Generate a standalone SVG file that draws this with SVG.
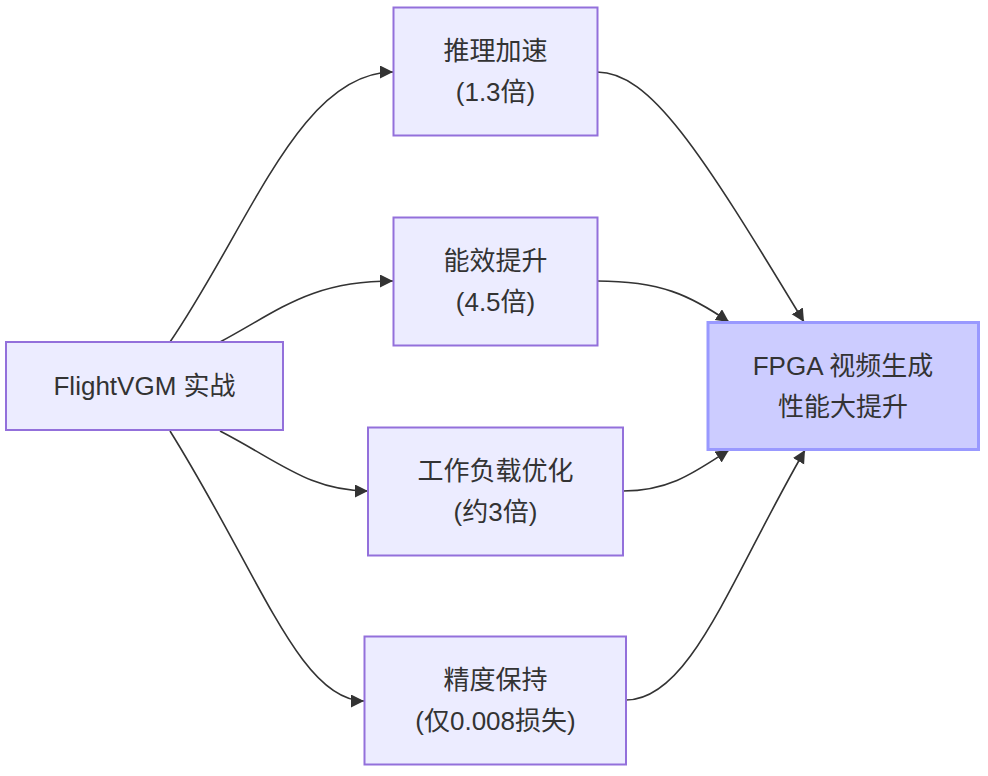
<svg xmlns="http://www.w3.org/2000/svg" width="988" height="776" viewBox="0 0 988 776">
<style>
.node rect{fill:#ECECFF;stroke:#9370DB;stroke-width:2px}
.node.result rect{fill:#CCCCFF;stroke:#9999FF;stroke-width:3px}
.node text{font-family:"Liberation Sans","Noto Sans CJK SC",sans-serif;font-size:26px;fill:#333333;text-anchor:middle;dominant-baseline:central}
.edges path{fill:none;stroke:#333333;stroke-width:1.6px;marker-end:url(#arrow)}
</style>
<defs>
<marker id="arrow" markerUnits="userSpaceOnUse" markerWidth="14" markerHeight="14" refX="13" refY="6.5" orient="auto">
<path d="M0,0 L13,6.5 L0,13 z" fill="#333333"/>
</marker>
</defs>
<rect width="988" height="776" fill="#ffffff"/>
<g class="edges">
<path d="M170,342 C250,225 300,72 393,72"/>
<path d="M220,342 C280,310 310,281 393,281"/>
<path d="M220,431 C280,462 310,491 368,491"/>
<path d="M170,431 C260,575 300,701 364,701"/>
<path d="M597,72 C650,72 700,150 804,322"/>
<path d="M597,281 C660,281 690,295 729,322"/>
<path d="M623,491 C670,491 695,472 729,450"/>
<path d="M626,700 C690,700 730,580 805,450"/>
</g>
<g id="A" class="node"><rect x="6" y="342" width="277" height="88"/><text x="144.5" y="386">FlightVGM 实战</text></g>
<g id="B" class="node"><rect x="393.5" y="7.5" width="204" height="128"/><text x="495.5" y="51">推理加速</text><text x="495.5" y="92">(1.3倍)</text></g>
<g id="C" class="node"><rect x="393.5" y="217.5" width="204" height="128"/><text x="495.5" y="261">能效提升</text><text x="495.5" y="302">(4.5倍)</text></g>
<g id="D" class="node"><rect x="368" y="427.5" width="255" height="128"/><text x="495.5" y="471">工作负载优化</text><text x="495.5" y="512">(约3倍)</text></g>
<g id="E" class="node"><rect x="364.5" y="636.5" width="261.5" height="128"/><text x="495.5" y="680">精度保持</text><text x="495.5" y="721">(仅0.008损失)</text></g>
<g id="F" class="node result"><rect x="708" y="322.5" width="270.5" height="127"/><text x="843" y="366">FPGA 视频生成</text><text x="843" y="407">性能大提升</text></g>
</svg>
